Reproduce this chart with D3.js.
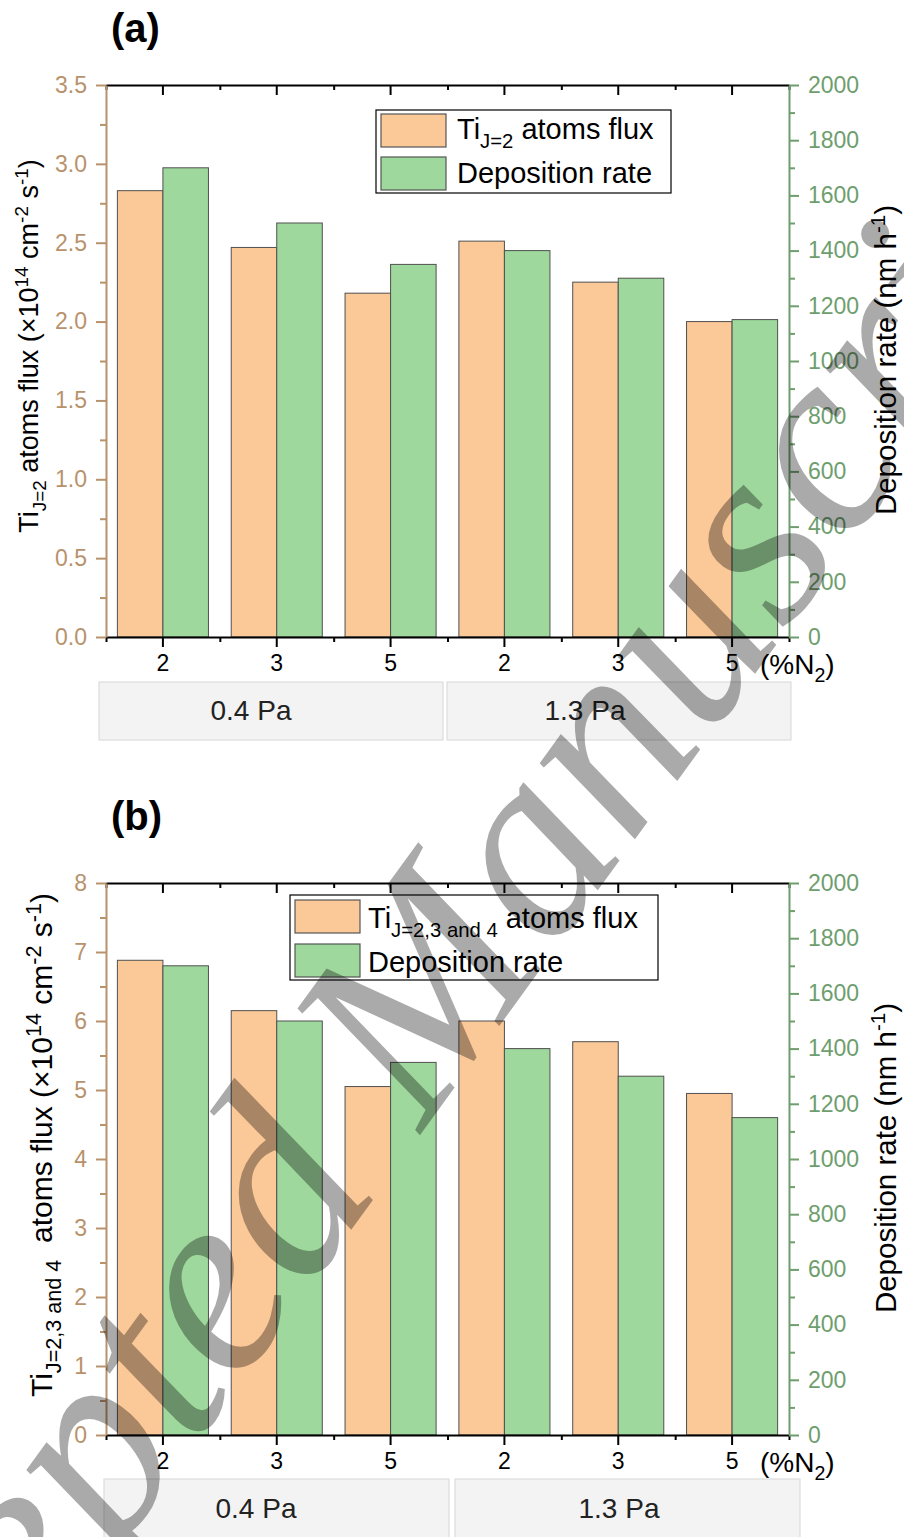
<!DOCTYPE html>
<html><head><meta charset="utf-8">
<script src="https://cdn.jsdelivr.net/npm/d3@7"></script>
<style>
html,body{margin:0;padding:0;background:#fff;}
svg{display:block;font-family:"Liberation Sans",Arial,sans-serif;}
text{white-space:pre;}
</style></head>
<body>
<script>
// ---------- data ----------
const categories = ["2", "3", "5", "2", "3", "5"];
const pressures = ["0.4 Pa", "1.3 Pa"];
const fluxA = [2.83, 2.47, 2.18, 2.51, 2.25, 2.00];
const rateA = [1700, 1500, 1350, 1400, 1300, 1150];
const fluxB = [6.88, 6.15, 5.05, 6.00, 5.70, 4.95];
const rateB = [1700, 1500, 1350, 1400, 1300, 1150];
const leftTicksA = [0, 0.5, 1.0, 1.5, 2.0, 2.5, 3.0, 3.5];
const leftTicksB = [0, 1, 2, 3, 4, 5, 6, 7, 8];
const rightTicks = [0, 200, 400, 600, 800, 1000, 1200, 1400, 1600, 1800, 2000];
const panelLabels = ["(a)", "(b)"];
const seriesNames = ["flux", "rate"];
const watermark = "Accepted Manuscript";

// ---------- styles ----------
const W = 904, H = 1537;
const C_FLUX = "#fbc898", C_RATE = "#9ed89c";
const C_LEFT = "#b8926c", C_RIGHT = "#6e9e6e";

const svg = d3.select("body").append("svg").attr("width", W).attr("height", H);
svg.append("rect").attr("width", W).attr("height", H).attr("fill", "#fff");

function rich(sel, segs, size, subScale) {
  const sc = subScale || 0.7;
  let shift = 0;
  segs.forEach(s => {
    const ts = sel.append("tspan").text(s.t);
    const target = s.k === "sub" ? size * 0.3 : s.k === "sup" ? -size * 0.38 : 0;
    ts.attr("dy", target - shift);
    shift = target;
    if (s.k) ts.attr("font-size", size * sc);
  });
}

function panel(cfg) {
  const {top, bottom, left, right, flux, rate, leftMax, leftTicks, leftFmt, minorStep} = cfg;
  const g = svg.append("g");
  const x = d3.scaleBand().domain(d3.range(categories.length)).range([left, right]).paddingInner(0).paddingOuter(0);
  const xs = d3.scaleBand().domain(seriesNames).range([x.bandwidth() * 0.1, x.bandwidth() * 0.9]);
  const xl = d3.scaleLinear().domain([0, categories.length]).range([left, right]);
  const yL = d3.scaleLinear().domain([0, leftMax]).range([bottom, top]);
  const yR = d3.scaleLinear().domain([0, 2000]).range([bottom, top]);

  // bars
  const bars = g.append("g");
  bars.selectAll("rect.f").data(flux).join("rect")
    .attr("x", (d, i) => x(i) + xs("flux")).attr("width", xs.bandwidth())
    .attr("y", d => yL(d)).attr("height", d => yL(0) - yL(d))
    .attr("fill", C_FLUX).attr("stroke", "#505050").attr("stroke-width", 1);
  bars.selectAll("rect.r").data(rate).join("rect")
    .attr("x", (d, i) => x(i) + xs("rate")).attr("width", xs.bandwidth())
    .attr("y", d => yR(d)).attr("height", d => yR(0) - yR(d))
    .attr("fill", C_RATE).attr("stroke", "#505050").attr("stroke-width", 1);

  // bottom axis
  const gb = g.append("g").attr("transform", `translate(0,${bottom})`)
    .call(d3.axisBottom(x).tickSizeInner(10).tickSizeOuter(0).tickPadding(8).tickFormat(i => categories[i]));
  gb.select(".domain").attr("stroke", "#000").attr("stroke-width", 2);
  gb.selectAll(".tick line").attr("stroke", "#000").attr("stroke-width", 2);
  gb.selectAll(".tick text").attr("font-size", 23).attr("fill", "#000").attr("font-family", "Liberation Sans, Arial");
  g.append("g").attr("transform", `translate(0,${bottom})`)
    .call(d3.axisBottom(xl).tickValues(d3.range(categories.length + 1)).tickSize(5).tickFormat(""))
    .call(a => { a.select(".domain").remove(); a.selectAll("line").attr("stroke", "#000").attr("stroke-width", 2); });

  // top axis (ticks inward)
  const gt = g.append("g").attr("transform", `translate(0,${top})`)
    .call(d3.axisTop(x).tickSizeInner(-10).tickSizeOuter(0).tickFormat(""));
  gt.select(".domain").attr("stroke", "#000").attr("stroke-width", 2);
  gt.selectAll("line").attr("stroke", "#000").attr("stroke-width", 2);
  g.append("g").attr("transform", `translate(0,${top})`)
    .call(d3.axisTop(xl).tickValues(d3.range(categories.length + 1)).tickSize(-5).tickFormat(""))
    .call(a => { a.select(".domain").remove(); a.selectAll("line").attr("stroke", "#000").attr("stroke-width", 2); });

  // left axis
  const minorL = d3.range(minorStep, leftMax, minorStep * 2);
  g.append("g").attr("transform", `translate(${left},0)`)
    .call(d3.axisLeft(yL).tickValues(minorL).tickSize(6).tickFormat(""))
    .call(a => { a.select(".domain").remove(); a.selectAll("line").attr("stroke", C_LEFT).attr("stroke-width", 2); });
  const gl = g.append("g").attr("transform", `translate(${left},0)`)
    .call(d3.axisLeft(yL).tickValues(leftTicks).tickSizeInner(10).tickSizeOuter(0).tickPadding(9).tickFormat(leftFmt));
  gl.select(".domain").attr("stroke", C_LEFT).attr("stroke-width", 2);
  gl.selectAll("line").attr("stroke", C_LEFT).attr("stroke-width", 2);
  gl.selectAll("text").attr("font-size", 23).attr("fill", C_LEFT).attr("font-family", "Liberation Sans, Arial");

  // right axis
  const minorR = d3.range(100, 2000, 200);
  g.append("g").attr("transform", `translate(${right},0)`)
    .call(d3.axisRight(yR).tickValues(minorR).tickSize(6).tickFormat(""))
    .call(a => { a.select(".domain").remove(); a.selectAll("line").attr("stroke", C_RIGHT).attr("stroke-width", 2); });
  const gr = g.append("g").attr("transform", `translate(${right},0)`)
    .call(d3.axisRight(yR).tickValues(rightTicks).tickSizeInner(10).tickSizeOuter(0).tickPadding(9).tickFormat(d3.format("d")));
  gr.select(".domain").attr("stroke", C_RIGHT).attr("stroke-width", 2);
  gr.selectAll("line").attr("stroke", C_RIGHT).attr("stroke-width", 2);
  gr.selectAll("text").attr("font-size", 23).attr("fill", C_RIGHT).attr("font-family", "Liberation Sans, Arial");

  // unit label
  const u = g.append("text").attr("x", right - 29).attr("y", bottom + 37).attr("font-size", 28).attr("fill", "#000");
  rich(u, [{t: "(%N"}, {t: "2", k: "sub"}, {t: ")"}], 28);

  // pressure boxes
  cfg.boxes.forEach((b, i) => {
    g.append("rect").attr("x", b[0]).attr("y", cfg.boxTop).attr("width", b[1] - b[0]).attr("height", cfg.boxH)
      .attr("fill", "#f3f3f3").attr("stroke", "#dddddd").attr("stroke-width", 1.2);
    g.append("text").attr("x", cfg.boxText[i]).attr("y", cfg.boxBase).attr("text-anchor", "middle")
      .attr("font-size", 28).attr("fill", "#222").text(pressures[i]);
  });

  // panel label
  g.append("text").attr("x", 111).attr("y", cfg.labelY).attr("font-size", 40).attr("font-weight", "bold")
    .attr("fill", "#000").text(cfg.label);

  // axis titles
  const lt = g.append("text").attr("transform", `translate(${cfg.ltX},${cfg.ltY}) rotate(-90)`)
    .attr("text-anchor", "middle").attr("font-size", cfg.ltSize).attr("fill", "#000");
  rich(lt, cfg.leftTitle, cfg.ltSize, cfg.ltSub);
  const rt = g.append("text").attr("transform", `translate(896,${cfg.rtY}) rotate(-90)`)
    .attr("text-anchor", "middle").attr("font-size", 29.5).attr("fill", "#000");
  rich(rt, [{t: "Deposition rate (nm h"}, {t: "-1", k: "sup"}, {t: ")"}], 29.5);

  // legend
  const L = cfg.legend;
  g.append("rect").attr("x", L.x0).attr("y", L.y0).attr("width", L.x1 - L.x0).attr("height", L.y1 - L.y0)
    .attr("fill", "#fff").attr("stroke", "#000").attr("stroke-width", 1.2);
  [C_FLUX, C_RATE].forEach((c, i) => {
    g.append("rect").attr("x", L.sx).attr("y", L.sy[i]).attr("width", 65).attr("height", 33)
      .attr("fill", c).attr("stroke", "#555").attr("stroke-width", 1.2);
  });
  const l1 = g.append("text").attr("x", L.tx).attr("y", L.base[0]).attr("font-size", 29).attr("fill", "#000");
  rich(l1, cfg.legendTitle, 29);
  g.append("text").attr("x", L.tx).attr("y", L.base[1]).attr("font-size", 29).attr("fill", "#000").text("Deposition rate");
}

panel({
  top: 85, bottom: 637, left: 106, right: 789, flux: fluxA, rate: rateA,
  leftMax: 3.5, leftTicks: leftTicksA, leftFmt: d3.format(".1f"), minorStep: 0.25,
  boxes: [[99, 443], [447, 791]], boxTop: 682, boxH: 58, boxText: [251, 585], boxBase: 720,
  label: panelLabels[0], labelY: 42, ltX: 38, ltY: 346, ltSize: 27, ltSub: 0.7, rtY: 360,
  leftTitle: [{t: "Ti"}, {t: "J=2", k: "sub"}, {t: " atoms flux (×10"}, {t: "14", k: "sup"}, {t: " cm"}, {t: "-2", k: "sup"}, {t: " s"}, {t: "-1", k: "sup"}, {t: ")"}],
  legendTitle: [{t: "Ti"}, {t: "J=2", k: "sub"}, {t: " atoms flux"}],
  legend: {x0: 376, x1: 671, y0: 110, y1: 193, sx: 381, sy: [114, 157], tx: 457, base: [139, 183]}
});

panel({
  top: 883, bottom: 1435, left: 106, right: 789, flux: fluxB, rate: rateB,
  leftMax: 8, leftTicks: leftTicksB, leftFmt: d3.format("d"), minorStep: 0.5,
  boxes: [[104, 449], [455, 800]], boxTop: 1479, boxH: 70, boxText: [256, 619], boxBase: 1518,
  label: panelLabels[1], labelY: 830, ltX: 52, ltY: 1145, ltSize: 30, ltSub: 0.72, rtY: 1158,
  leftTitle: [{t: "Ti"}, {t: "J=2,3 and 4", k: "sub"}, {t: "  atoms flux (×10"}, {t: "14", k: "sup"}, {t: " cm"}, {t: "-2", k: "sup"}, {t: " s"}, {t: "-1", k: "sup"}, {t: ")"}],
  legendTitle: [{t: "Ti"}, {t: "J=2,3 and 4", k: "sub"}, {t: " atoms flux"}],
  legend: {x0: 290, x1: 658, y0: 895, y1: 980, sx: 295, sy: [900, 944], tx: 368, base: [928, 972]}
});

// watermark
svg.append("text").attr("transform", "translate(476,1058) rotate(-54)")
  .attr("text-anchor", "middle").attr("font-family", "Liberation Serif, Times New Roman, serif")
  .attr("font-style", "italic").attr("font-size", 265).attr("fill", "#000").attr("opacity", 0.33)
  .text(watermark);
</script>
</body></html>
